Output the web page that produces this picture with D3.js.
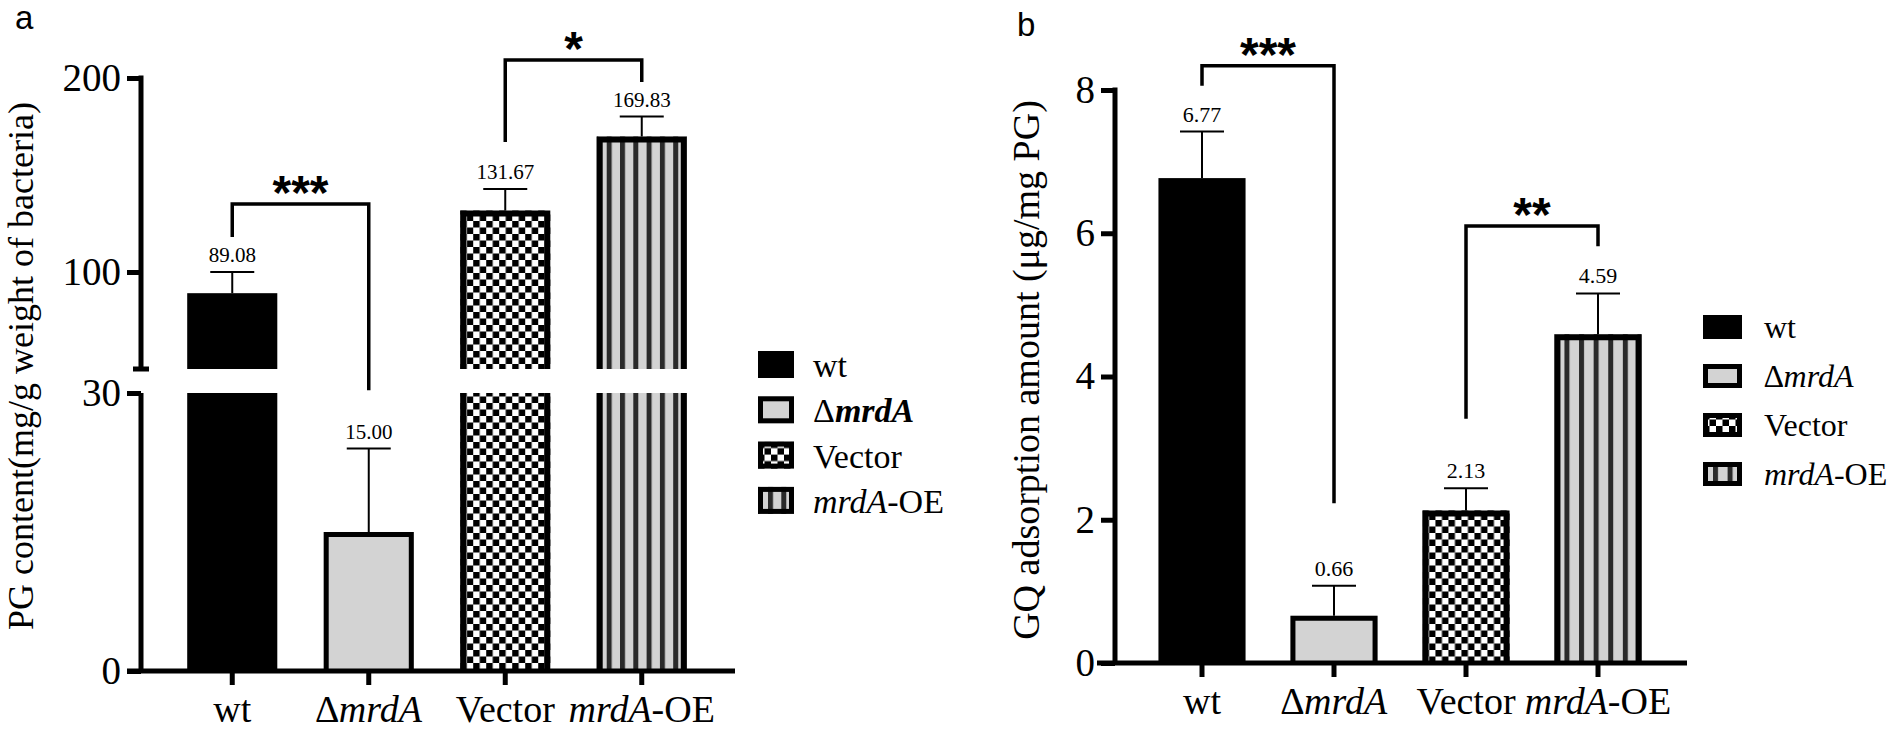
<!DOCTYPE html>
<html>
<head>
<meta charset="utf-8">
<script src="https://cdn.jsdelivr.net/npm/d3@7"></script>
<style>
  body { margin: 0; background: #fff; }
  svg { display: block; }
</style>
</head>
<body>
<div id="viz"></div>
<script>
// values
const groups = ['wt', 'ΔmrdA', 'Vector', 'mrdA-OE'];
const pgMeans = [89.08, 15.00, 131.67, 169.83];
const pgErrors = [10.9, 9.0, 11.1, 10.3];
const gqMeans = [6.77, 0.66, 2.13, 4.59];
const gqErrors = [0.65, 0.42, 0.31, 0.57];
const pgUpperTicks = [100, 200];
const pgLowerTicks = [0, 30];
const gqTicks = [0, 2, 4, 6, 8];
const pgBrackets = [
  { from: 'wt', to: 'ΔmrdA', fromEnd: 118, toEnd: 30.3, top: 135, label: '***' },
  { from: 'Vector', to: 'mrdA-OE', fromEnd: 167, toEnd: 198, top: 209.3, label: '*' }
];
const gqBrackets = [
  { from: 'wt', to: 'ΔmrdA', fromEnd: 8.06, toEnd: 2.23, top: 8.34, label: '***' },
  { from: 'Vector', to: 'mrdA-OE', fromEnd: 3.41, toEnd: 5.82, top: 6.10, label: '**' }
];

const SERIF = "'Liberation Serif', 'Times New Roman', serif";
const SANS = "'Liberation Sans', Arial, sans-serif";
const GRAY = '#d3d3d3';
const DARK = '#2a2a2a';

// text pieces: [text, style, weight]
const axisLabels = {
  'wt': [['wt']],
  'ΔmrdA': [['∆mrdA', 'italic']],
  'Vector': [['Vector']],
  'mrdA-OE': [['mrdA', 'italic'], ['-OE']]
};
const legendLabelsA = {
  'wt': [['wt']],
  'ΔmrdA': [['Δ'], ['mrdA', 'italic', 'bold']],
  'Vector': [['Vector']],
  'mrdA-OE': [['mrdA', 'italic'], ['-OE']]
};

const width = 1902;
const height = 729;

const svg = d3.select('#viz')
  .append('svg')
  .attr('width', width)
  .attr('height', height)
  .attr('viewBox', `0 0 ${width} ${height}`);

const defs = svg.append('defs');
let patternCount = 0;

const checkerFill = function (x0, y0) {
  const id = `checker${patternCount++}`;
  const p = defs.append('pattern')
    .attr('id', id)
    .attr('patternUnits', 'userSpaceOnUse')
    .attr('x', x0).attr('y', y0)
    .attr('width', 13).attr('height', 13);
  p.append('rect').attr('width', 13).attr('height', 13).attr('fill', '#fff');
  p.append('rect').attr('width', 6.5).attr('height', 6.5).attr('fill', '#000');
  p.append('rect').attr('x', 6.5).attr('y', 6.5).attr('width', 6.5).attr('height', 6.5).attr('fill', '#000');
  return `url(#${id})`;
};

const stripeFill = function (x0, period) {
  const id = `stripes${patternCount++}`;
  const p = defs.append('pattern')
    .attr('id', id)
    .attr('patternUnits', 'userSpaceOnUse')
    .attr('x', x0 + 10 - period).attr('y', 0)
    .attr('width', period).attr('height', 10);
  p.append('rect').attr('width', period).attr('height', 10).attr('fill', GRAY);
  p.append('rect').attr('width', 5).attr('height', 10).attr('fill', DARK);
  return `url(#${id})`;
};

const fillFor = function (i, x0, y0, period) {
  if (i === 0) return '#000';
  if (i === 1) return GRAY;
  if (i === 2) return checkerFill(x0, y0);
  return stripeFill(x0, period);
};

const writeParts = function (sel, parts) {
  sel.text(null);
  parts.forEach(([t, style, weight]) => {
    sel.append('tspan')
      .attr('font-style', style || 'normal')
      .attr('font-weight', weight || 'normal')
      .text(t);
  });
};

const drawPanel = function (cfg) {
  const g = svg.append('g');
  const x = cfg.x;
  const bw = x.bandwidth();
  const cx = d => x(d) + bw / 2;
  const yv = v => {
    const seg = cfg.segments.find(s => v >= s.scale.domain()[0] - 12) || cfg.segments[cfg.segments.length - 1];
    return seg.scale(v);
  };

  // bars, one piece per axis segment
  groups.forEach((grp, i) => {
    const v = cfg.means[i];
    const left = x(grp);
    const fill = fillFor(i, left, 0, cfg.stripePeriod);
    const sw = i === 0 ? 0 : (i === 1 ? 5 : 6);
    cfg.segments.forEach(seg => {
      const [lo, hi] = seg.scale.domain();
      if (v <= lo) return;
      const topV = Math.min(v, hi);
      const yt = seg.scale(topV);
      const yb = seg.scale(lo);
      g.append('rect')
        .attr('x', left).attr('y', yt)
        .attr('width', bw).attr('height', yb - yt)
        .attr('fill', fill);
      if (sw > 0) {
        const l = left + sw / 2;
        const r = left + bw - sw / 2;
        const t = yt + sw / 2;
        const path = v <= hi
          ? `M${l},${yb}V${t}H${r}V${yb}`
          : `M${l},${yb}V${yt}M${r},${yt}V${yb}`;
        g.append('path')
          .attr('d', path)
          .attr('fill', 'none')
          .attr('stroke', '#000')
          .attr('stroke-width', sw);
      }
    });

    // error bar and value label
    const yTop = yv(v + cfg.errors[i]);
    g.append('line')
      .attr('x1', cx(grp)).attr('x2', cx(grp))
      .attr('y1', yv(v)).attr('y2', yTop)
      .attr('stroke', '#000').attr('stroke-width', 2);
    g.append('line')
      .attr('x1', cx(grp) - 22).attr('x2', cx(grp) + 22)
      .attr('y1', yTop).attr('y2', yTop)
      .attr('stroke', '#000').attr('stroke-width', 2);
    g.append('text')
      .attr('x', cx(grp)).attr('y', yTop - 10)
      .attr('text-anchor', 'middle')
      .attr('font-family', SERIF)
      .attr('font-size', cfg.valueSize)
      .text(d3.format('.2f')(v));
  });

  // y axis segments
  cfg.segments.forEach((seg, si) => {
    const ax = g.append('g')
      .attr('transform', `translate(${cfg.axisX},0)`)
      .call(d3.axisLeft(seg.scale).tickValues(seg.ticks).tickSize(14).tickPadding(6));
    ax.select('.domain').remove();
    ax.selectAll('.tick line').attr('stroke-width', 5);
    ax.selectAll('.tick text')
      .attr('font-family', SERIF)
      .attr('font-size', 39)
      .attr('fill', '#000');
    const [r0, r1] = seg.scale.range();
    const topExt = si === 0 ? 2.5 : 0;
    g.append('line')
      .attr('x1', cfg.axisX).attr('x2', cfg.axisX)
      .attr('y1', r1 - topExt).attr('y2', r0)
      .attr('stroke', '#000').attr('stroke-width', 5);
    if (seg.breakAt !== undefined) {
      const yb = seg.scale(seg.breakAt);
      g.append('line')
        .attr('x1', cfg.axisX - 8).attr('x2', cfg.axisX + 8)
        .attr('y1', yb).attr('y2', yb)
        .attr('stroke', '#000').attr('stroke-width', 5);
    }
  });

  // x axis
  const base = cfg.segments[cfg.segments.length - 1].scale(0);
  const xa = g.append('g')
    .attr('transform', `translate(0,${base})`)
    .call(d3.axisBottom(x).tickSize(14).tickPadding(10));
  xa.select('.domain').remove();
  xa.selectAll('.tick line').attr('stroke-width', 5);
  xa.selectAll('.tick text')
    .attr('font-family', SERIF)
    .attr('font-size', 38)
    .attr('fill', '#000')
    .each(function (d) { writeParts(d3.select(this), axisLabels[d]); });
  g.append('line')
    .attr('x1', cfg.xAxisStart).attr('x2', cfg.xAxisEnd)
    .attr('y1', base).attr('y2', base)
    .attr('stroke', '#000').attr('stroke-width', 5);

  // significance brackets
  cfg.brackets.forEach(b => {
    const x1 = cx(b.from);
    const x2 = cx(b.to);
    g.append('path')
      .attr('d', `M${x1},${yv(b.fromEnd)}V${yv(b.top)}H${x2}V${yv(b.toEnd)}`)
      .attr('fill', 'none')
      .attr('stroke', '#000')
      .attr('stroke-width', 3.5);
    g.append('text')
      .attr('x', (x1 + x2) / 2)
      .attr('y', yv(b.top) + 5)
      .attr('text-anchor', 'middle')
      .attr('font-family', SANS)
      .attr('font-weight', 'bold')
      .attr('font-size', 48)
      .text(b.label);
  });

  // y title
  g.append('text')
    .attr('transform', `translate(${cfg.titleX},${cfg.titleY}) rotate(-90)`)
    .attr('text-anchor', 'middle')
    .attr('font-family', SERIF)
    .attr('font-size', cfg.titleSize)
    .text(cfg.title);

  // panel letter
  g.append('text')
    .attr('x', cfg.letterX).attr('y', cfg.letterY)
    .attr('font-family', SANS)
    .attr('font-size', 33)
    .text(cfg.letter);

  // legend
  const lg = cfg.legend;
  groups.forEach((grp, i) => {
    const top = lg.top + i * lg.step;
    const fill = fillFor(i, lg.x, top, cfg.stripePeriod);
    g.append('rect')
      .attr('x', lg.x).attr('y', top)
      .attr('width', lg.w).attr('height', lg.h)
      .attr('fill', fill);
    if (i > 0) {
      g.append('rect')
        .attr('x', lg.x + 2.5).attr('y', top + 2.5)
        .attr('width', lg.w - 5).attr('height', lg.h - 5)
        .attr('fill', 'none')
        .attr('stroke', '#000')
        .attr('stroke-width', 5);
    }
    g.append('text')
      .attr('x', lg.textX).attr('y', top + lg.h - 1)
      .attr('font-family', SERIF)
      .attr('font-size', lg.size)
      .call(sel => writeParts(sel, lg.labels[grp]));
  });
};

drawPanel({
  x: d3.scaleBand().domain(groups).range([164, 710]).paddingInner(0.34).paddingOuter(0.17),
  segments: [
    { scale: d3.scaleLinear().domain([50, 200]).range([369, 78]), ticks: pgUpperTicks, breakAt: 50 },
    { scale: d3.scaleLinear().domain([0, 30]).range([671, 393]), ticks: pgLowerTicks }
  ],
  means: pgMeans,
  errors: pgErrors,
  brackets: pgBrackets,
  stripePeriod: 13.3,
  valueSize: 21,
  axisX: 141,
  xAxisStart: 127,
  xAxisEnd: 735,
  title: 'PG content(mg/g weight of bacteria)',
  titleX: 33,
  titleY: 366,
  titleSize: 36,
  letter: 'a',
  letterX: 15,
  letterY: 29,
  legend: { x: 758, top: 351, step: 45.3, w: 36, h: 27, textX: 813, size: 34, labels: legendLabelsA }
});

drawPanel({
  x: d3.scaleBand().domain(groups).range([1136, 1664]).paddingInner(0.34).paddingOuter(0.17),
  segments: [
    { scale: d3.scaleLinear().domain([0, 8]).range([663, 90]), ticks: gqTicks }
  ],
  means: gqMeans,
  errors: gqErrors,
  brackets: gqBrackets,
  stripePeriod: 14.6,
  valueSize: 22,
  axisX: 1115,
  xAxisStart: 1097,
  xAxisEnd: 1687,
  title: 'GQ adsorption amount (μg/mg PG)',
  titleX: 1039,
  titleY: 370,
  titleSize: 38,
  letter: 'b',
  letterX: 1017,
  letterY: 36,
  legend: { x: 1703, top: 315, step: 49, w: 39, h: 24, textX: 1764, size: 32, labels: axisLabels }
});
</script>
</body>
</html>
